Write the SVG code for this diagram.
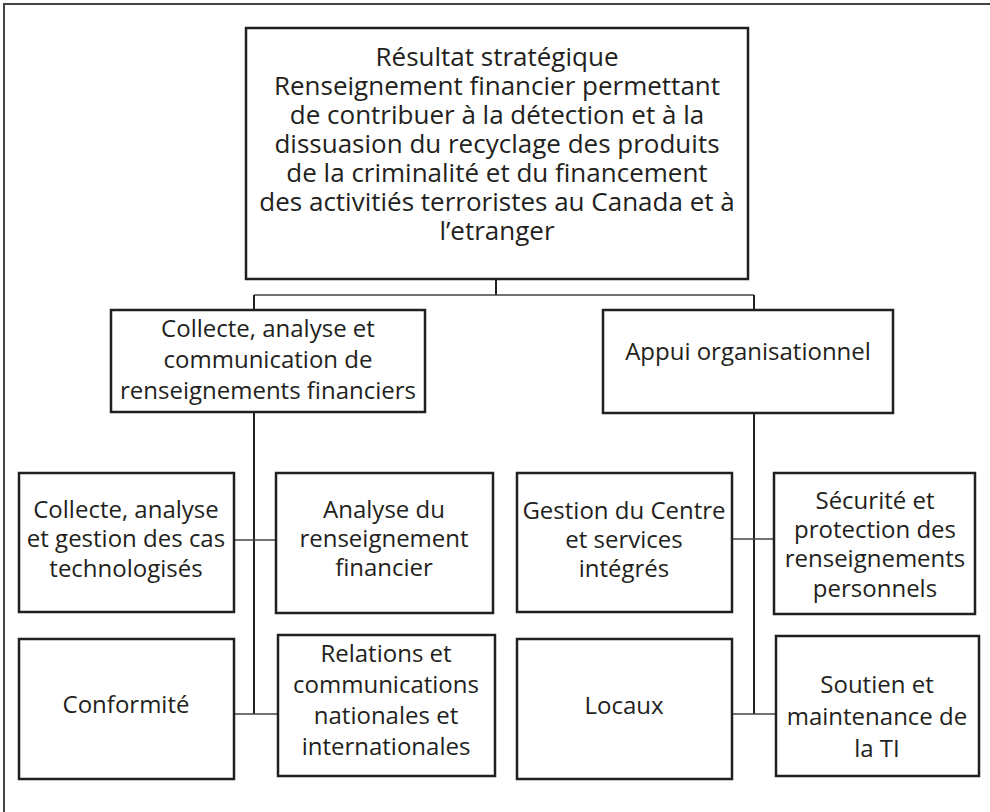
<svg xmlns="http://www.w3.org/2000/svg" width="990" height="812" viewBox="0 0 990 812">
<style>
.box{fill:#fff;stroke:#231f20;stroke-width:2.5}
.t{font-family:"Open Sans","Liberation Sans",sans-serif;font-size:24px;fill:#231f20;text-anchor:middle}
.tl{font-size:26px}
.c{fill:none;stroke:#231f20;stroke-width:2}
.h{fill:none;stroke:#444;stroke-width:1.5}
</style>
<rect width="990" height="812" fill="#fff"/>
<path d="M4,812 V4 H990" fill="none" stroke="#444" stroke-width="2"/>
<g id="connectors">
<path class="c" d="M496,279 V295"/>
<path class="h" d="M254,295 H754"/>
<path class="c" d="M254,295 V310"/>
<path class="c" d="M754,295 V310"/>
<path class="c" d="M254,412 V714"/>
<path class="c" d="M754,413 V714"/>
<path class="h" d="M234,540 H276"/>
<path class="h" d="M234,714 H278"/>
<path class="h" d="M732,539 H774"/>
<path class="h" d="M732,714 H776"/>
</g>
<g id="n-top">
<rect class="box" x="246" y="28" width="502" height="251"/>
<text class="t tl"><tspan x="497" y="66">Résultat stratégique</tspan><tspan x="497" y="95">Renseignement financier permettant</tspan><tspan x="497" y="124">de contribuer à la détection et à la</tspan><tspan x="497" y="153">dissuasion du recyclage des produits</tspan><tspan x="497" y="182">de la criminalité et du financement</tspan><tspan x="497" y="211">des activitiés terroristes au Canada et à</tspan><tspan x="497" y="240">l’etranger</tspan></text>
</g>
<g id="n-collecte">
<rect class="box" x="111" y="310" width="314" height="102"/>
<text class="t"><tspan x="268" y="337">Collecte, analyse et</tspan><tspan x="268" y="368">communication de</tspan><tspan x="268" y="399">renseignements financiers</tspan></text>
</g>
<g id="n-appui">
<rect class="box" x="603" y="310" width="290" height="103"/>
<text class="t"><tspan x="748" y="360">Appui organisationnel</tspan></text>
</g>
<g id="n-cas">
<rect class="box" x="19" y="473" width="215" height="139"/>
<text class="t"><tspan x="126" y="518">Collecte, analyse</tspan><tspan x="126" y="547">et gestion des cas</tspan><tspan x="126" y="577">technologisés</tspan></text>
</g>
<g id="n-analyse">
<rect class="box" x="276" y="473" width="217" height="140"/>
<text class="t"><tspan x="384" y="518">Analyse du</tspan><tspan x="384" y="547">renseignement</tspan><tspan x="384" y="576">financier</tspan></text>
</g>
<g id="n-conformite">
<rect class="box" x="19" y="639" width="215" height="140"/>
<text class="t"><tspan x="126" y="713">Conformité</tspan></text>
</g>
<g id="n-relations">
<rect class="box" x="278" y="635" width="217" height="141"/>
<text class="t"><tspan x="386" y="662">Relations et</tspan><tspan x="386" y="693">communications</tspan><tspan x="386" y="724">nationales et</tspan><tspan x="386" y="755">internationales</tspan></text>
</g>
<g id="n-gestion">
<rect class="box" x="517" y="473" width="215" height="139"/>
<text class="t"><tspan x="624" y="519">Gestion du Centre</tspan><tspan x="624" y="548">et services</tspan><tspan x="624" y="577">intégrés</tspan></text>
</g>
<g id="n-securite">
<rect class="box" x="774" y="473" width="201" height="141"/>
<text class="t"><tspan x="875" y="509">Sécurité et</tspan><tspan x="875" y="538">protection des</tspan><tspan x="875" y="567">renseignements</tspan><tspan x="875" y="597">personnels</tspan></text>
</g>
<g id="n-locaux">
<rect class="box" x="517" y="639" width="215" height="140"/>
<text class="t"><tspan x="624" y="714">Locaux</tspan></text>
</g>
<g id="n-soutien">
<rect class="box" x="776" y="636" width="203" height="140"/>
<text class="t"><tspan x="877" y="693">Soutien et</tspan><tspan x="877" y="725">maintenance de</tspan><tspan x="877" y="757">la TI</tspan></text>
</g>
</svg>
